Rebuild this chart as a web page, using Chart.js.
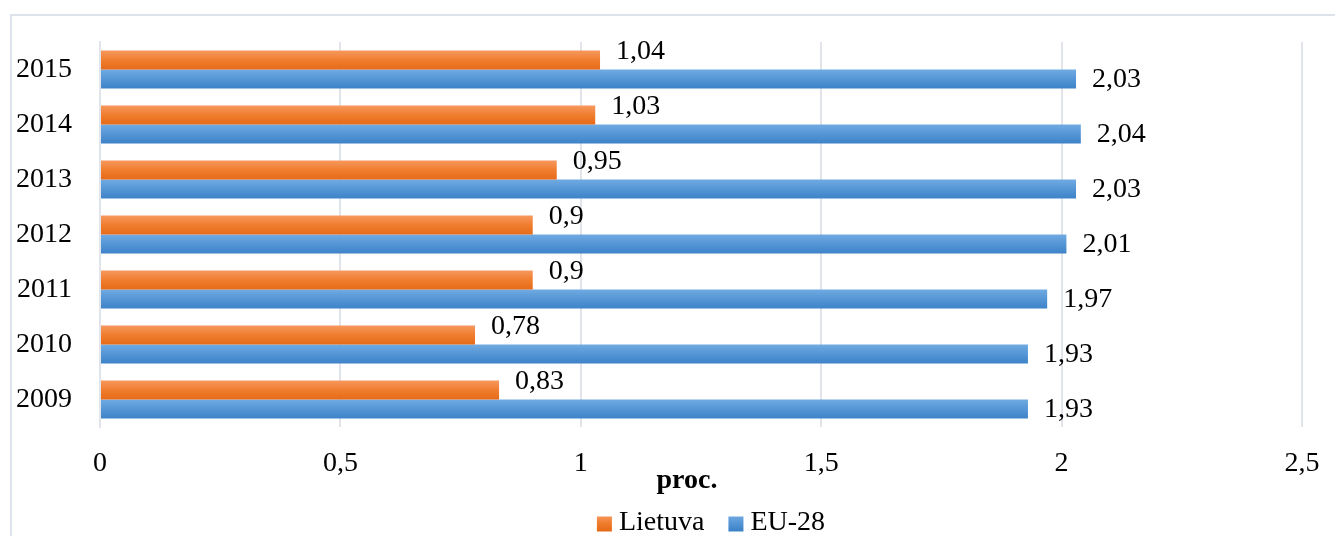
<!DOCTYPE html>
<html>
<head>
<meta charset="utf-8">
<script src="https://cdn.jsdelivr.net/npm/chart.js@4.4.1/dist/chart.umd.min.js"></script>
<style>
  html, body { margin: 0; padding: 0; background: #ffffff; }
  #wrap { position: relative; width: 1335px; height: 536px; }
</style>
</head>
<body>
<div id="wrap"><canvas id="chart" width="1335" height="536"></canvas></div>
<script>
// Years shown top to bottom
const years = ['2015', '2014', '2013', '2012', '2011', '2010', '2009'];
const lietuva = [1.04, 1.03, 0.95, 0.9, 0.9, 0.78, 0.83];
const eu28 = [2.03, 2.04, 2.03, 2.01, 1.97, 1.93, 1.93];
const seriesNames = ['Lietuva', 'EU-28'];
const xTicks = [0, 0.5, 1, 1.5, 2, 2.5];
const axisTitle = 'proc.';

const FONT = '"Liberation Serif", "Times New Roman", serif';
const CAT_PCT = 0.69;

// Vertical gradient stops per series
const gradStops = [
  ['#F6985F', '#F07D2E', '#E56B19'],
  ['#70AAE1', '#5596D6', '#3D83C8']
];
const solid = ['#ED7D31', '#5B9BD5'];

function fmt(v) { return String(v).replace('.', ','); }

function barGradient(ctx) {
  const chart = ctx.chart;
  const ds = ctx.datasetIndex;
  if (ctx.type !== 'data' || !chart.chartArea || !chart.scales.y) return solid[ds];
  const area = chart.chartArea;
  const catW = (area.bottom - area.top) / years.length;
  const thick = catW * CAT_PCT / 2;
  const c = chart.scales.y.getPixelForValue(ctx.dataIndex);
  const top = c - catW * CAT_PCT / 2 + ds * thick;
  const g = chart.ctx.createLinearGradient(0, top, 0, top + thick);
  g.addColorStop(0, gradStops[ds][0]);
  g.addColorStop(0.5, gradStops[ds][1]);
  g.addColorStop(1, gradStops[ds][2]);
  return g;
}

function legendGradient(c2d, ds, top, h) {
  const g = c2d.createLinearGradient(0, top, 0, top + h);
  g.addColorStop(0, gradStops[ds][0]);
  g.addColorStop(0.5, gradStops[ds][1]);
  g.addColorStop(1, gradStops[ds][2]);
  return g;
}

// Outer frame of the chart
const framePlugin = {
  id: 'frame',
  beforeDraw(chart) {
    const c = chart.ctx;
    c.save();
    c.strokeStyle = '#DEE2EA';
    c.lineWidth = 2;
    c.beginPath();
    c.moveTo(11, chart.height);
    c.lineTo(11, 15);
    c.lineTo(chart.width, 15);
    c.stroke();
    c.restore();
  }
};

// Value labels at the end of each bar
const valueLabels = {
  id: 'valueLabels',
  afterDatasetsDraw(chart) {
    const c = chart.ctx;
    c.save();
    c.font = '28px ' + FONT;
    c.fillStyle = '#000000';
    c.textAlign = 'left';
    c.textBaseline = 'middle';
    const yShift = [-8, 1];
    chart.data.datasets.forEach((ds, di) => {
      const meta = chart.getDatasetMeta(di);
      meta.data.forEach((el, i) => {
        c.fillText(fmt(ds.data[i]), el.x + 16, el.y + yShift[di]);
      });
    });
    c.restore();
  }
};

// Axis title and legend row beneath the plot
const bottomText = {
  id: 'bottomText',
  afterDraw(chart) {
    const c = chart.ctx;
    const area = chart.chartArea;
    const mid = (area.left + area.right) / 2;
    c.save();
    c.fillStyle = '#000000';
    c.textBaseline = 'middle';
    c.textAlign = 'center';
    c.font = 'bold 28px ' + FONT;
    c.fillText(axisTitle, mid - 14, area.bottom + 54);

    c.font = '28px ' + FONT;
    c.textAlign = 'left';
    const box = 15, gapText = 7, gapItem = 24;
    const widths = seriesNames.map(n => c.measureText(n).width);
    let total = 0;
    widths.forEach((w, i) => { total += box + gapText + w + (i < widths.length - 1 ? gapItem : 0); });
    let x = mid + 10 - total / 2;
    const cy = area.bottom + 96;
    seriesNames.forEach((n, i) => {
      c.fillStyle = legendGradient(c, i, cy - box / 2, box);
      c.fillRect(x, cy - box / 2 + 1, box, box);
      x += box + gapText;
      c.fillStyle = '#000000';
      c.fillText(n, x, cy);
      x += widths[i] + gapItem;
    });
    c.restore();
  }
};

new Chart(document.getElementById('chart'), {
  type: 'bar',
  data: {
    labels: years,
    datasets: [
      { label: seriesNames[0], data: lietuva, backgroundColor: barGradient, borderWidth: 0,
        barPercentage: 1, categoryPercentage: CAT_PCT },
      { label: seriesNames[1], data: eu28, backgroundColor: barGradient, borderWidth: 0,
        barPercentage: 1, categoryPercentage: CAT_PCT }
    ]
  },
  options: {
    indexAxis: 'y',
    responsive: false,
    animation: false,
    events: [],
    layout: { padding: { left: 16, right: 33, top: 42, bottom: 0 } },
    plugins: {
      legend: { display: false },
      tooltip: { enabled: false },
      title: { display: false }
    },
    scales: {
      x: {
        type: 'linear',
        min: 0,
        max: 2.5,
        afterBuildTicks(scale) { scale.ticks = xTicks.map(v => ({ value: v })); },
        afterFit(scale) {
          scale.height = 109;
          scale.paddingLeft = 0;
          scale.paddingRight = 0;
        },
        grid: { color: '#E1E4EA', lineWidth: 2, drawTicks: false },
        border: { display: false },
        ticks: {
          padding: 20,
          color: '#000000',
          font: { family: FONT, size: 28 },
          callback: v => fmt(v),
          maxRotation: 0
        }
      },
      y: {
        afterFit(scale) {
          scale.width = 84;
          scale.paddingTop = 0;
          scale.paddingBottom = 0;
        },
        grid: { display: false, drawTicks: false },
        border: { display: true, color: '#E1E4EA', width: 2 },
        ticks: {
          padding: 28,
          color: '#000000',
          font: { family: FONT, size: 28 }
        }
      }
    }
  },
  plugins: [framePlugin, valueLabels, bottomText]
});
</script>
</body>
</html>
